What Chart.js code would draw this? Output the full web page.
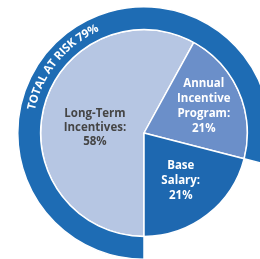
<!DOCTYPE html>
<html lang="en">
<head>
<meta charset="UTF-8">
<title>Total at risk</title>
<style>
  html, body { margin: 0; padding: 0; background: #fff; overflow: hidden; width: 260px; height: 259px; }
  #pie { position: absolute; left: 17px; top: 6px; }
</style>
</head>
<body>
<canvas id="pie" width="254" height="254"></canvas>
<script src="https://cdn.jsdelivr.net/npm/chart.js@4.4.0/dist/chart.umd.min.js"></script>
<script>
const categories = ['Long-Term Incentives', 'Annual Incentive Program', 'Base Salary'];
const shares = [58, 21, 21];
const labelLines = [['Long-Term', 'Incentives:', '58%'], ['Annual', 'Incentive', 'Program:', '21%'], ['Base', 'Salary:', '21%']];
const atRisk = [79, 21];
const ringTitle = 'TOTAL AT RISK 79%';

const sliceColors = ['#b6c6e3', '#6b8fc9', '#1e68b0'];
const textColors = ['#454545', '#ffffff', '#ffffff'];
const labelRadius = [0.46, 0.63, 0.58];
const labelShift = [[-3, 7], [0, -1], [0, 0]];

const labelPlugin = {
  id: 'sliceLabels',
  afterDraw(chart) {
    const ctx = chart.ctx;
    const pie = chart.getDatasetMeta(1).data;
    ctx.save();
    ctx.textAlign = 'center';
    ctx.textBaseline = 'middle';
    ctx.font = 'bold 11.5px "Open Sans"';
    pie.forEach((arc, i) => {
      const mid = (arc.startAngle + arc.endAngle) / 2;
      const r = arc.outerRadius * labelRadius[i];
      const x = arc.x + Math.cos(mid) * r + labelShift[i][0];
      const y = arc.y + Math.sin(mid) * r + labelShift[i][1];
      const lines = labelLines[i];
      const lh = i === 0 ? 14 : 15;
      ctx.fillStyle = textColors[i];
      lines.forEach((t, k) => {
        ctx.fillText(t, x, y + (k - (lines.length - 1) / 2) * lh);
      });
    });

    // curved title along the outer ring
    const ring = chart.getDatasetMeta(0).data[0];
    const rr = (ring.innerRadius + ring.outerRadius) / 2;
    ctx.font = 'bold 11.5px "Open Sans"';
    ctx.fillStyle = '#ffffff';
    const widths = Array.from(ringTitle).map(c => ctx.measureText(c).width);
    const total = widths.reduce((a, b) => a + b, 0);
    const centre = (309 - 90) * Math.PI / 180;
    let a = centre - total / rr / 2;
    Array.from(ringTitle).forEach((c, k) => {
      const ca = a + widths[k] / rr / 2;
      ctx.save();
      ctx.translate(ring.x + Math.cos(ca) * rr, ring.y + Math.sin(ca) * rr);
      ctx.rotate(ca + Math.PI / 2);
      ctx.fillText(c, 0, 0);
      ctx.restore();
      a += widths[k] / rr;
    });
    ctx.restore();
  }
};

new Chart(document.getElementById('pie'), {
  type: 'doughnut',
  data: {
    labels: categories,
    datasets: [
      {
        data: atRisk,
        backgroundColor: ['#1e6cb4', 'rgba(0,0,0,0)'],
        borderColor: ['#ffffff', 'rgba(0,0,0,0)'],
        borderWidth: 1.5,
        weight: 23
      },
      {
        data: shares,
        backgroundColor: sliceColors,
        borderColor: '#ffffff',
        borderWidth: 1.5,
        weight: 104
      }
    ]
  },
  options: {
    responsive: false,
    animation: false,
    devicePixelRatio: 1,
    rotation: 180,
    cutout: 0,
    layout: { padding: 0 },
    elements: { arc: { offset: 0, hoverOffset: 0 } },
    plugins: { legend: { display: false }, tooltip: { enabled: false } },
    events: []
  },
  plugins: [labelPlugin]
});
</script>
</body>
</html>
